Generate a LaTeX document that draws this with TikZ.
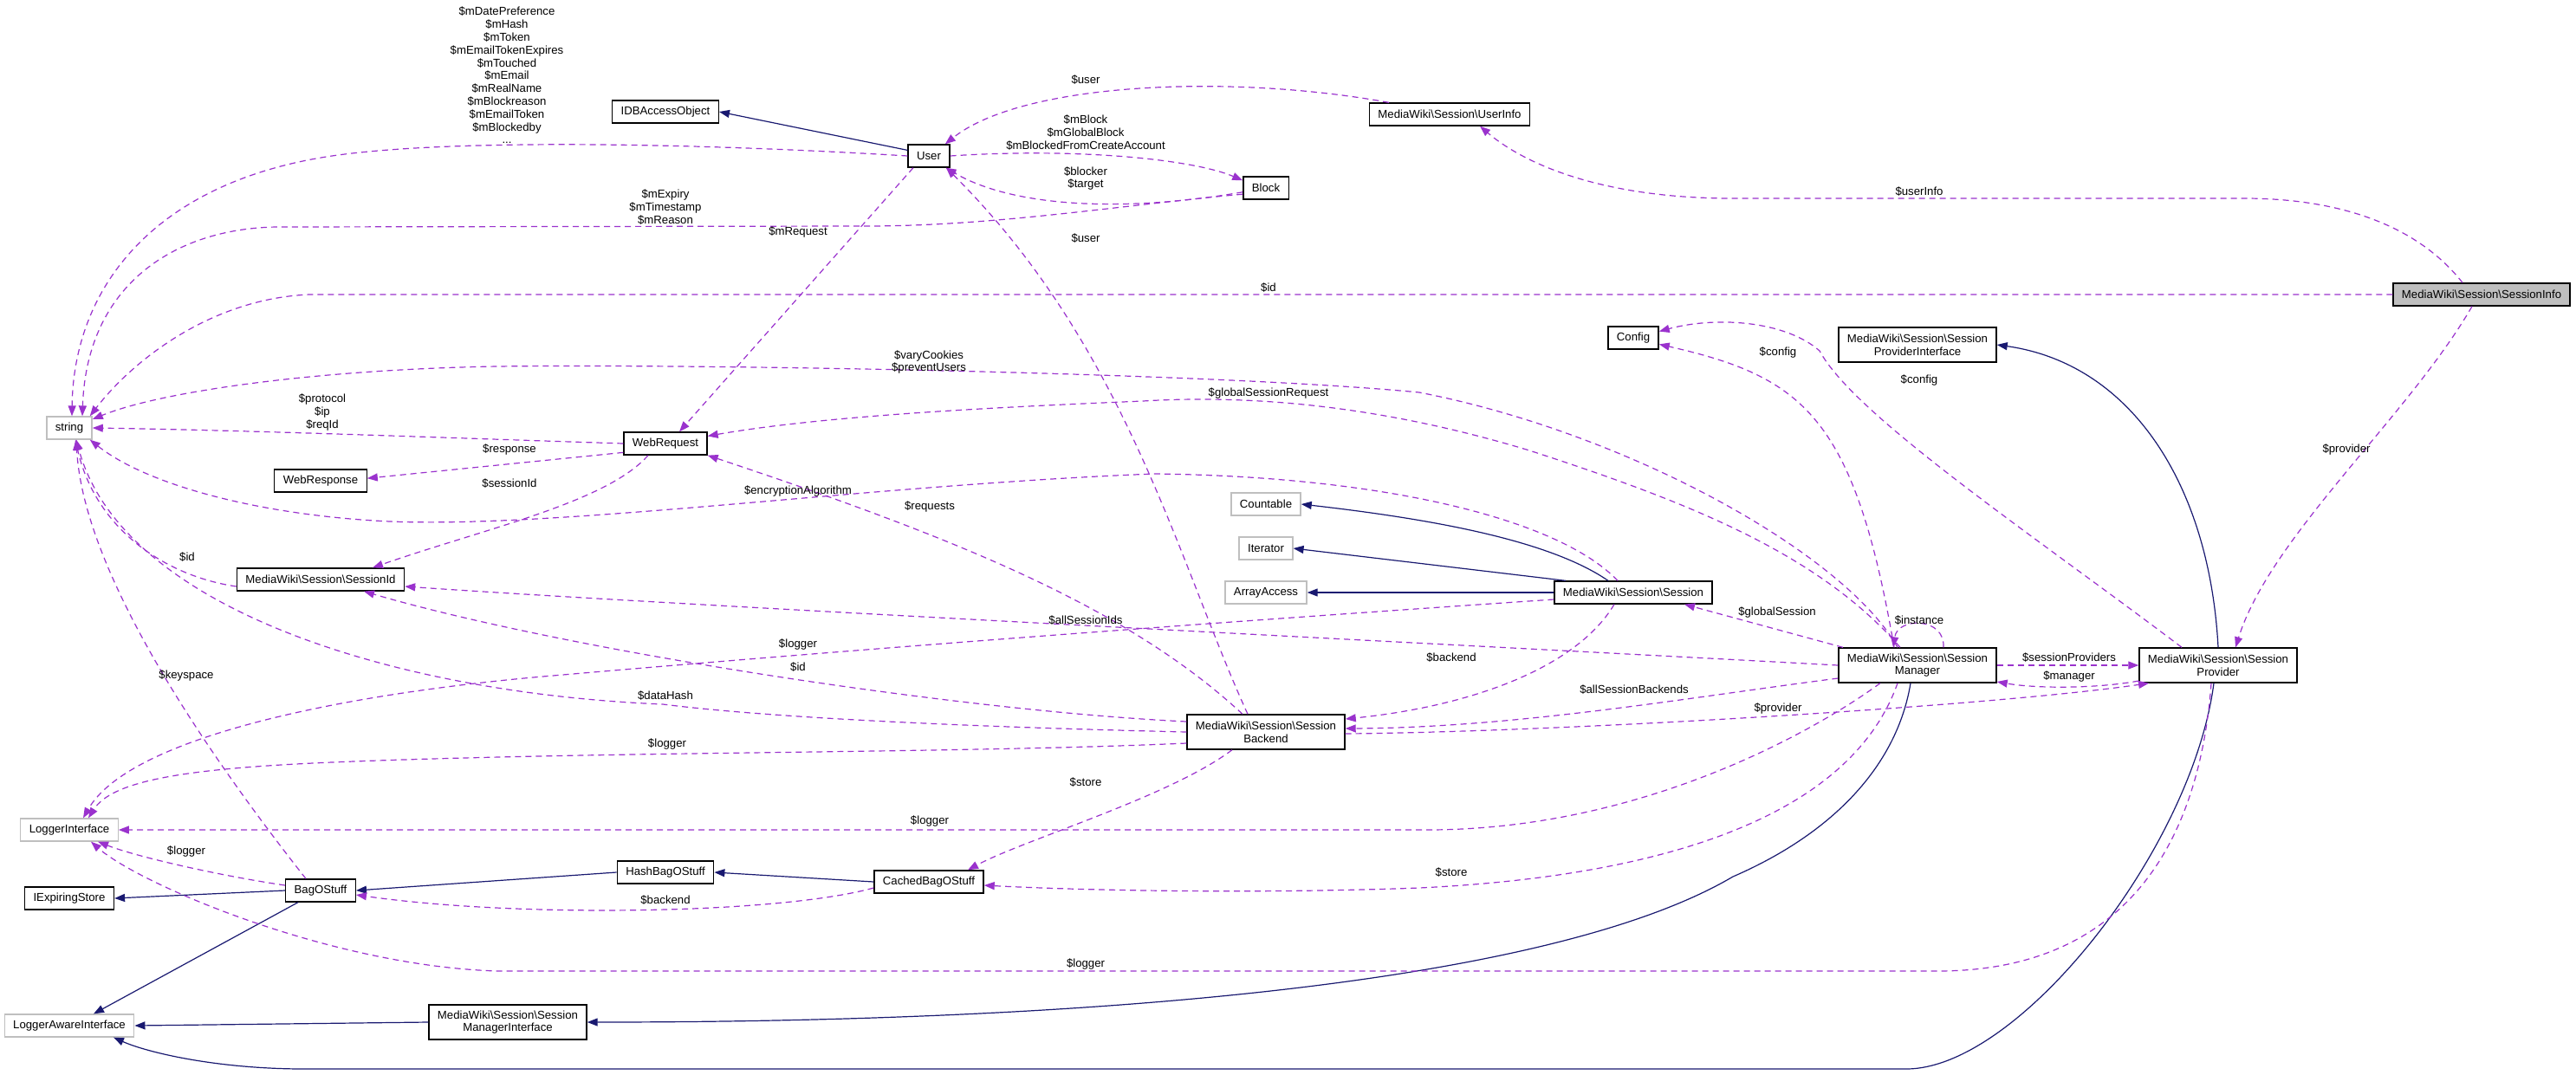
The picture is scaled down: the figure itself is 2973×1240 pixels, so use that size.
\documentclass[tikz,border=0pt]{standalone}
\usepackage{fontspec}
\setmainfont{Liberation Sans}
\usetikzlibrary{arrows.meta, positioning}
\definecolor{inhblue}{HTML}{191970}
\definecolor{usepurple}{HTML}{9A32CD}
\definecolor{extgray}{HTML}{BFBFBF}
\newcommand{\bks}{\textbackslash}

\begin{document}
\begin{tikzpicture}[x=1pt, y=-1pt,
    font=\fontsize{13.2}{14.8}\selectfont,
    cls/.style={draw=black, line width=1.3pt, fill=white, inner xsep=10pt, inner ysep=0pt, minimum height=26pt, align=center},
    ext/.style={cls, draw=extgray},
    focus/.style={cls, fill=extgray},
    tall/.style={minimum height=40pt},
    inherit/.style={draw=inhblue, line width=1.2pt, -{Triangle[length=12pt,width=9pt]}},
    usage/.style={draw=usepurple, line width=1.2pt, dash pattern=on 7pt off 5pt, -{Triangle[length=12pt,width=9pt]}},
    lbl/.style={inner sep=0pt, align=center}]
  \useasboundingbox (0,0) rectangle (2973,1240);

  % classes
  \node[cls] (idb) at (768,129) {IDBAccessObject};
  \node[cls] (user) at (1072,180) {User};
  \node[cls] (userinfo) at (1673,132) {MediaWiki\bks{}Session\bks{}UserInfo};
  \node[cls] (block) at (1461,217) {Block};
  \node[focus] (sinfo) at (2864,340) {MediaWiki\bks{}Session\bks{}SessionInfo};
  \node[ext] (str) at (80,494) {string};
  \node[cls] (webreq) at (768,512) {WebRequest};
  \node[cls] (webresp) at (370,555) {WebResponse};
  \node[cls] (config) at (1885,390) {Config};
  \node[cls, tall] (spi) at (2213,398) {MediaWiki\bks{}Session\bks{}Session\\ProviderInterface};
  \node[ext] (countable) at (1461,582) {Countable};
  \node[ext] (iterator) at (1461,633) {Iterator};
  \node[ext] (arrayacc) at (1461,684) {ArrayAccess};
  \node[cls] (session) at (1885,684) {MediaWiki\bks{}Session\bks{}Session};
  \node[cls] (sid) at (370,669) {MediaWiki\bks{}Session\bks{}SessionId};
  \node[cls, tall] (smgr) at (2213,768) {MediaWiki\bks{}Session\bks{}Session\\Manager};
  \node[cls, tall] (sprov) at (2560,768) {MediaWiki\bks{}Session\bks{}Session\\Provider};
  \node[cls, tall] (sbackend) at (1461,845) {MediaWiki\bks{}Session\bks{}Session\\Backend};
  \node[ext] (loggeri) at (80,958) {LoggerInterface};
  \node[cls] (hashbag) at (768,1007) {HashBagOStuff};
  \node[cls] (cachedbag) at (1072,1018) {CachedBagOStuff};
  \node[cls] (bag) at (370,1028) {BagOStuff};
  \node[cls] (iexp) at (80,1037) {IExpiringStore};
  \node[cls, tall] (smi) at (586,1180) {MediaWiki\bks{}Session\bks{}Session\\ManagerInterface};
  \node[ext] (lai) at (80,1184) {LoggerAwareInterface};

  % inheritance
  \draw[inherit] (user.165) -- (idb.east);
  \draw[inherit] (sprov.north) .. controls (2550,560) and (2460,420) .. (spi.east);
  \draw[inherit] ([xshift=-29pt]session.north) .. controls (1790,625) and (1660,600) .. (countable.east);
  \draw[inherit] ([xshift=-78pt]session.north) -- (iterator.east);
  \draw[inherit] (session.west) -- (arrayacc.east);
  \draw[inherit] (bag.west) -- (iexp.east);
  \draw[inherit] ([xshift=-26pt]bag.south) -- ([xshift=28pt]lai.north);
  \draw[inherit] (hashbag.west) -- (bag.east);
  \draw[inherit] (cachedbag.west) -- (hashbag.east);
  \draw[inherit] (smi.west) -- (lai.east);
  \draw[inherit] ([xshift=-8pt]smgr.south) .. controls (2190,880) and (2120,960) .. (2000,1012)
    .. controls (1800,1130) and (1300,1180) .. (smi.east);
  \draw[inherit] ([xshift=-5pt]sprov.south) .. controls (2530,980) and (2330,1234) .. (2200,1234)
    -- (351,1234) .. controls (250,1234) and (170,1215) .. (lai.-15);

  % members
  \draw[usage] (user.west) .. controls (800,165) and (520,160) .. (383,180)
    .. controls (180,210) and (85,330) .. ([xshift=3pt]str.north);
  \draw[usage] (block.195) .. controls (1300,236) and (1150,261) .. (1000,261) -- (319,262)
    .. controls (200,264) and (100,330) .. ([xshift=15pt]str.north);
  \draw[usage] (user.east) .. controls (1250,170) and (1380,185) .. (block.162);
  \draw[usage] (block.190) .. controls (1300,245) and (1170,240) .. (user.-35);
  \draw[usage] ([xshift=-70pt]userinfo.north) .. controls (1420,85) and (1180,95) .. (user.36);
  \draw[usage] ([xshift=-18pt]user.south) -- ([xshift=16pt]webreq.north);
  \draw[usage] ([xshift=-21pt]sbackend.north) .. controls (1360,650) and (1300,400) .. ([xshift=20pt]user.south);
  \draw[usage] (sinfo.west) -- (357,340) .. controls (240,345) and (150,420) .. ([xshift=-3pt]str.north east);
  \draw[usage] ([xshift=-22pt]sinfo.north) .. controls (2790,260) and (2700,229) .. (2590,229) -- (2000,229)
    .. controls (1850,229) and (1760,190) .. ([xshift=35pt]userinfo.south);
  \draw[usage] ([xshift=-11pt]sinfo.south) .. controls (2780,480) and (2620,620) .. ([xshift=20pt]sprov.north);
  \draw[usage] ([xshift=-23pt]smgr.north) .. controls (2130,640) and (1880,500) .. (1638,453)
    .. controls (1400,430) and (800,420) .. (574,423) .. controls (380,426) and (190,450) .. ([yshift=10pt]str.east);
  \draw[usage] ([xshift=-20pt]smgr.north) .. controls (2100,640) and (1950,580) .. (1765,520)
    .. controls (1600,470) and (1450,455) .. (1319,463) .. controls (1150,470) and (950,480) .. (webreq.10);
  \draw[usage] ([xshift=-27pt]smgr.north) .. controls (2140,480) and (2080,435) .. (config.-14);
  \draw[usage] ([xshift=-42pt]sprov.north) .. controls (2350,620) and (2140,480) .. (2100,405)
    .. controls (2060,370) and (1980,365) .. (config.14);
  \draw[usage] (webreq.192) -- (webresp.3);
  \draw[usage] ([xshift=-20pt]webreq.south) .. controls (700,580) and (560,610) .. ([xshift=60pt]sid.north);
  \draw[usage] (webreq.west) .. controls (500,505) and (300,497) .. (str.east);
  \draw[usage] ([yshift=-8pt]sid.west) .. controls (190,665) and (110,610) .. ([xshift=7pt]str.south);
  \draw[usage] (smgr.west) .. controls (1700,745) and (800,700) .. ([yshift=-8pt]sid.east);
  \draw[usage] ([yshift=12pt]sbackend.west) .. controls (1100,820) and (650,750) .. ([xshift=50pt]sid.south);
  \draw[usage] (sbackend.west) .. controls (1150,840) and (900,830) .. (765,813)
    .. controls (450,800) and (140,700) .. ([xshift=8pt]str.south);
  \draw[usage] ([xshift=-18pt]session.north) .. controls (1800,600) and (1600,550) .. (1332,547)
    .. controls (1000,560) and (650,610) .. (450,602) .. controls (300,595) and (170,560) .. ([xshift=-3pt]str.south east);
  \draw[usage] ([yshift=-8pt]session.west) .. controls (1500,712) and (1100,740) .. (638,780)
    .. controls (400,800) and (150,850) .. ([xshift=16pt]loggeri.north);
  \draw[usage] ([yshift=-13pt]sbackend.west) .. controls (1100,870) and (700,867) .. (383,880)
    .. controls (220,887) and (130,900) .. ([xshift=22pt]loggeri.north);
  \draw[usage] ([xshift=-27pt]sbackend.north) .. controls (1300,700) and (1100,620) .. (webreq.south east);
  \draw[usage] ([xshift=-22pt]session.south) .. controls (1820,770) and (1700,815) .. ([yshift=15pt]sbackend.east);
  \draw[usage] ([xshift=-86pt]smgr.north) -- ([xshift=59pt]session.south);
  \draw[usage] ([yshift=-15pt]smgr.west) .. controls (1950,805) and (1750,840) .. ([yshift=4pt]sbackend.east);
  \draw[usage] ([yshift=-2pt]sbackend.east) .. controls (1800,845) and (2300,815) .. ([xshift=-80pt]sprov.south);
  \draw[usage] (smgr.east) -- (sprov.west);
  \draw[usage] ([yshift=-18pt]sprov.west) .. controls (2420,795) and (2350,795) .. ([yshift=-19pt]smgr.east);
  \draw[usage] ([xshift=30pt]smgr.north) .. controls (2245,712) and (2190,712) .. ([xshift=-28pt]smgr.north);
  \draw[usage] ([xshift=-43pt]smgr.south) .. controls (2100,840) and (1900,957) .. (1650,958) -- (loggeri.east);
  \draw[usage] ([xshift=-23pt]smgr.south) .. controls (2140,930) and (1950,1010) .. (1638,1025)
    .. controls (1450,1032) and (1250,1028) .. ([yshift=-4pt]cachedbag.east);
  \draw[usage] ([xshift=-8pt]sprov.south) .. controls (2540,950) and (2470,1121) .. (2236,1121) -- (574,1121)
    .. controls (380,1115) and (160,1020) .. ([xshift=25pt]loggeri.south);
  \draw[usage] ([xshift=-39pt]sbackend.south) .. controls (1350,920) and (1180,970) .. ([xshift=45pt]cachedbag.north);
  \draw[usage] ([yshift=-7pt]cachedbag.west) .. controls (900,1055) and (600,1060) .. ([yshift=-5pt]bag.east);
  \draw[usage] ([yshift=6pt]bag.west) .. controls (260,1012) and (160,990) .. ([xshift=33pt]loggeri.south);
  \draw[usage] ([xshift=-17pt]bag.north) .. controls (200,820) and (95,640) .. ([xshift=8pt]str.south);

  % member labels
  \node[lbl] (l-userfields) at (585,87) {\$mDatePreference\\\$mHash\\\$mToken\\\$mEmailTokenExpires\\\$mTouched\\\$mEmail\\\$mRealName\\\$mBlockreason\\\$mEmailToken\\\$mBlockedby\\...};
  \node[lbl] (l-blockfields) at (768,239) {\$mExpiry\\\$mTimestamp\\\$mReason};
  \node[lbl] (l-mrequest) at (921,268) {\$mRequest};
  \node[lbl] (l-infouser) at (1253,92) {\$user};
  \node[lbl] (l-mblock) at (1253,153) {\$mBlock\\\$mGlobalBlock\\\$mBlockedFromCreateAccount};
  \node[lbl] (l-blocker) at (1253,206) {\$blocker\\\$target};
  \node[lbl] (l-backuser) at (1253,275) {\$user};
  \node[lbl] (l-infoid) at (1464,332) {\$id};
  \node[lbl] (l-userinfo) at (2215,221) {\$userInfo};
  \node[lbl] (l-infoprov) at (2708,519) {\$provider};
  \node[lbl] (l-cookies) at (1072,418) {\$varyCookies\\\$preventUsers};
  \node[lbl] (l-globreq) at (1464,454) {\$globalSessionRequest};
  \node[lbl] (l-mgrconfig) at (2052,407) {\$config};
  \node[lbl] (l-provconfig) at (2215,439) {\$config};
  \node[lbl] (l-response) at (588,519) {\$response};
  \node[lbl] (l-sessionid) at (588,558) {\$sessionId};
  \node[lbl] (l-protocol) at (372,476) {\$protocol\\\$ip\\\$reqId};
  \node[lbl] (l-encrypt) at (921,567) {\$encryptionAlgorithm};
  \node[lbl] (l-sidid) at (216,643) {\$id};
  \node[lbl] (l-allids) at (1253,716) {\$allSessionIds};
  \node[lbl] (l-backid) at (921,770) {\$id};
  \node[lbl] (l-datahash) at (768,803) {\$dataHash};
  \node[lbl] (l-seslogger) at (921,744) {\$logger};
  \node[lbl] (l-backlogger) at (770,859) {\$logger};
  \node[lbl] (l-requests) at (1073,585) {\$requests};
  \node[lbl] (l-backend) at (1675,759) {\$backend};
  \node[lbl] (l-globses) at (2051,707) {\$globalSession};
  \node[lbl] (l-allback) at (1886,796) {\$allSessionBackends};
  \node[lbl] (l-backprov) at (2052,818) {\$provider};
  \node[lbl] (l-provs) at (2388,759) {\$sessionProviders};
  \node[lbl] (l-manager) at (2388,781) {\$manager};
  \node[lbl] (l-instance) at (2215,716) {\$instance};
  \node[lbl] (l-mgrlogger) at (1073,948) {\$logger};
  \node[lbl] (l-mgrstore) at (1675,1007) {\$store};
  \node[lbl] (l-provlogger) at (1253,1113) {\$logger};
  \node[lbl] (l-backstore) at (1253,903) {\$store};
  \node[lbl] (l-bagbackend) at (768,1039) {\$backend};
  \node[lbl] (l-baglogger) at (215,983) {\$logger};
  \node[lbl] (l-keyspace) at (215,780) {\$keyspace};
\end{tikzpicture}
\end{document}
